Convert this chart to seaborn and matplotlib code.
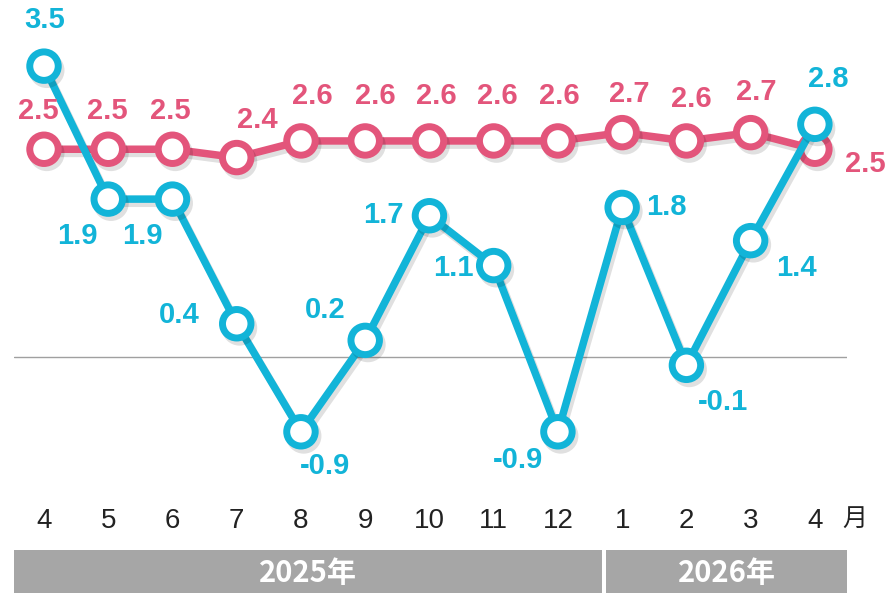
import pandas as pd
import matplotlib.pyplot as plt
import matplotlib.patheffects as pe
from matplotlib.patches import Rectangle
import seaborn as sns

months = ["4", "5", "6", "7", "8", "9", "10", "11", "12", "1", "2", "3", "4"]
pink_vals = [2.5, 2.5, 2.5, 2.4, 2.6, 2.6, 2.6, 2.6, 2.6, 2.7, 2.6, 2.7, 2.5]
cyan_vals = [3.5, 1.9, 1.9, 0.4, -0.9, 0.2, 1.7, 1.1, -0.9, 1.8, -0.1, 1.4, 2.8]
years = ["2025年", "2026年"]

PINK = "#E3557B"
CYAN = "#12B4D8"

# label offsets in pixels (dx, dy) relative to the marker
pink_off = [(-6, 38), (-1, 38), (-2, 38), (21, 38), (11, 45), (10, 45), (7, 45), (4, 45), (1, 45),
            (7, 39), (5, 42), (6, 41), (50, -15)]
cyan_off = [(1, 46), (-31, -37), (-30, -37), (-57, 9), (24, -34), (-40, 30), (-46, 1), (-40, -2),
            (-40, -28), (44, 0), (37, -37), (46, -27), (13, 45)]

df = pd.DataFrame({"pos": range(len(months)), "pink": pink_vals, "cyan": cyan_vals})

sns.set_style("white")
plt.rcParams["font.family"] = ["Liberation Sans", "Noto Sans CJK JP", "DejaVu Sans"]

W, H = 891, 593
fig = plt.figure(figsize=(W / 100, H / 100), dpi=100)
ax = fig.add_axes([14 / W, (H - 480) / H, (847 - 14) / W, 480 / H])
ax.set_xlim(-0.467, 12.5)
ax.set_ylim(-(480 - 357) / 83.1, 357 / 83.1)

ax.axhline(0, color="#a0a0a0", lw=1, zorder=1)

shadow = [pe.SimpleLineShadow(offset=(2, -3), shadow_color="black", alpha=0.12), pe.Normal()]
for col, color, z in [("pink", PINK, 3), ("cyan", CYAN, 4)]:
    sns.lineplot(data=df, x="pos", y=col, ax=ax, color=color, lw=5.4, marker="o",
                 markersize=20.5, markerfacecolor="white", markeredgecolor=color,
                 markeredgewidth=5, sort=False, zorder=z, path_effects=shadow)

for vals, offs, color in [(pink_vals, pink_off, PINK), (cyan_vals, cyan_off, CYAN)]:
    for i, (v, (dx, dy)) in enumerate(zip(vals, offs)):
        ax.annotate(f"{v:.1f}", (i, v), xytext=(dx * 0.72, dy * 0.72), textcoords="offset points",
                    ha="center", va="center", fontsize=21, fontweight="bold", color=color,
                    annotation_clip=False, zorder=6)

for s in ax.spines.values():
    s.set_visible(False)
ax.set_xticks([])
ax.set_yticks([])
ax.set_xlabel("")
ax.set_ylabel("")

# month labels
for i, m in enumerate(months):
    x_px = 44 + i * 64.25
    fig.text(x_px / W, 1 - 521 / H, m, ha="center", va="center", fontsize=20,
             color="#222222", family=["Liberation Sans Narrow", "Liberation Sans"])
fig.text(855 / W, 1 - 519 / H, "月", ha="center", va="center", fontsize=18,
         color="#222222", family=["Noto Sans CJK JP"])

# year bars
for (x0, x1), label in zip([(14, 602), (606, 847)], years):
    fig.add_artist(Rectangle((x0 / W, 0), (x1 - x0) / W, 43 / H, transform=fig.transFigure,
                             facecolor="#a6a6a6", edgecolor="none"))
    fig.text((x0 + x1) / 2 / W, 20 / H, label, ha="center", va="center", fontsize=21,
             fontweight="bold", color="white", family=["Liberation Sans Narrow", "Noto Sans CJK JP"])

fig.savefig("out.png", dpi=100)
